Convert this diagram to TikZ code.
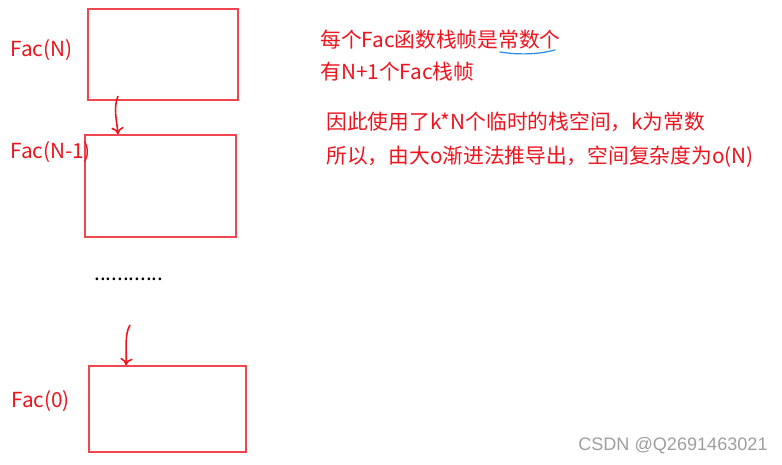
\documentclass[tikz,border=0pt]{standalone}
\usepackage{fontspec}
\usetikzlibrary{arrows.meta}
\setmainfont{Noto Sans CJK SC}
\newfontfamily\markfont{Liberation Sans}
\definecolor{inkred}{RGB}{238,20,30}
\definecolor{boxred}{RGB}{240,70,80}
\definecolor{penblue}{RGB}{40,140,230}
\tikzset{
  framebox/.style={draw=boxred, line width=0.9pt, inner sep=0pt},
  lbl/.style={text=inkred, anchor=west, inner sep=0pt, font=\fontsize{11.8}{14}\selectfont},
  arr/.style={draw=inkred, line width=0.9pt, ->, >={To[length=4pt,width=7pt]}}
}
\begin{document}
\begin{tikzpicture}[x={(0.02cm,0cm)}, y={(0cm,-0.02cm)}]
    \useasboundingbox (0,0) rectangle (782,465);
    \node[framebox, minimum width=3cm, minimum height=1.82cm] (fN) at (163,54.5) {};
    \node[framebox, minimum width=3.02cm, minimum height=2.04cm] (fN1) at (160.5,186) {};
    \node[framebox, minimum width=3.14cm, minimum height=1.72cm] (f0) at (167.5,409) {};
    \node[lbl] (tN) at (10,50) {Fac(N)};
    \node[lbl] (tN1) at (10,152) {Fac(N-1)};
    \node[lbl] (t0) at (11,401) {Fac(0)};
    \node[anchor=west, inner sep=0pt, font=\fontsize{11.8}{14}\selectfont] (dots) at (94,279) {............};
    \coordinate (s1) at (118,96);
    \coordinate (s2) at (130,325);
    \draw[arr] (s1) .. controls (113,108) and (117,122) .. (s1 |- fN1.north);
    \draw[arr] (s2) .. controls (124,335) and (127,352) .. ([xshift=-0.08cm]s2 |- f0.north);
    \node[lbl] (l1) at (320,40) {每个Fac函数栈帧是常数个};
    \node[lbl] (l2) at (320,72) {有N+1个Fac栈帧};
    \node[lbl] (l3) at (326,122) {因此使用了k*N个临时的栈空间，k为常数};
    \node[lbl] (l4) at (326,157) {所以，由大o渐进法推导出，空间复杂度为o(N)};
    \draw[penblue, line width=0.7pt, line cap=round] (500,52) .. controls (518,55) and (535,54) .. (546,52) -- (555,50);
    \node[anchor=east, inner sep=0pt, text=black!38, font=\markfont\fontsize{10.3}{12}\selectfont] (mark) at (768,446) {CSDN @Q2691463021};
\end{tikzpicture}
\end{document}
